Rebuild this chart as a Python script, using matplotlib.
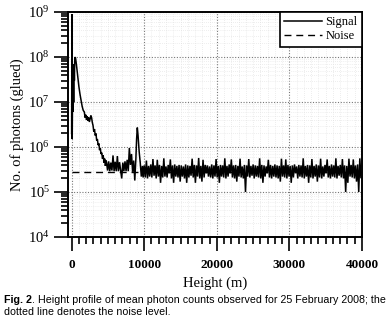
import numpy as np
import matplotlib
matplotlib.use("Agg")
import matplotlib.pyplot as plt
from matplotlib.ticker import MultipleLocator, LogLocator, FixedLocator, NullFormatter

plt.rcParams['font.family'] = ['Liberation Serif', 'DejaVu Serif']
plt.rcParams['mathtext.fontset'] = 'custom'
plt.rcParams['mathtext.rm'] = 'Liberation Serif'
plt.rcParams['mathtext.it'] = 'Liberation Serif:italic'
plt.rcParams['mathtext.bf'] = 'Liberation Serif:bold'

# ---- data ----
# near-range profile (m, photons)
near_h = [0, 40, 80, 130, 180, 230, 280, 330, 380, 430, 500, 560, 650, 750, 850,
          1000, 1150, 1300, 1450, 1600, 1750, 1850, 1950, 2050, 2150, 2250, 2350,
          2450, 2550, 2650, 2750, 2850, 2950, 3050, 3150, 3250, 3350, 3450, 3550,
          3650, 3750, 3850, 3950, 4050, 4150, 4250, 4350, 4450, 4550, 4650, 4750,
          4800, 4950, 5100, 5250, 5400, 5550, 5700, 5850, 6000, 6150, 6300, 6450,
          6600, 6750, 6900, 7050, 7200, 7350, 7500, 7650, 7800, 7950, 8100, 8250,
          8400, 8550, 8700, 8850, 8950, 9050, 9150, 9300, 9450, 9600, 9750, 9850]
near_v = [2e6, 9e8, 1.5e6, 2e7, 6e6, 5e7, 1e7, 7e7, 3e7, 9e7, 1e8, 9e7, 7e7, 5e7, 3.5e7,
          2.2e7, 1.5e7, 1.1e7, 8e6, 6.5e6, 6e6, 4.5e6, 5.2e6, 4e6, 4.8e6, 3.8e6, 4.5e6,
          3.6e6, 4.2e6, 5e6, 4.5e6, 3.5e6, 3e6, 2.2e6, 2.5e6, 1.8e6, 2e6, 1.4e6, 1.5e6,
          1.1e6, 1.2e6, 8.5e5, 9.5e5, 7e5, 7.5e5, 5.5e5, 6.5e5, 4.5e5, 5.5e5, 3.8e5, 5e5,
          4.6e5, 3.0e5, 4.8e5, 2.9e5, 4.5e5, 3.0e5, 6.5e5, 2.9e5, 4.7e5, 2.9e5, 6.3e5, 2.9e5,
          4.6e5, 3.0e5, 2.0e5, 4.5e5, 2.9e5, 4.8e5, 2.9e5, 5.2e5, 2.9e5, 9.5e5, 4.0e5, 7.0e5,
          2.8e5, 5.0e5, 1.8e5, 5.5e5, 1.5e6, 2.7e6, 1.8e6, 8e5, 4.5e5, 2.2e5, 3.8e5, 2.1e5]

# far-range background band, 150 m bins starting at 10000 m (units of 1e5 photons)
band_start = 10000
band_step = 150
band_v = [3.9, 2.1, 5.0, 2.0, 3.8, 2.2, 4.1, 2.1, 5.4, 2.3,
          3.9, 2.0, 5.2, 2.2, 4.0, 1.6, 3.8, 2.1, 5.6, 2.2,
          3.7, 2.1, 4.0, 2.6, 5.3, 2.0, 3.9, 1.6, 4.1, 2.2,
          3.8, 2.1, 4.0, 1.7, 3.9, 2.2, 3.7, 2.0, 4.1, 1.6,
          3.9, 2.1, 3.8, 2.3, 5.5, 2.1, 4.0, 1.6, 3.9, 2.2,
          5.7, 2.0, 3.8, 1.7, 5.2, 2.1, 4.0, 2.6, 3.9, 2.2,
          3.7, 2.1, 4.1, 2.0, 3.9, 2.2, 5.4, 2.1, 3.8, 1.6,
          4.0, 2.2, 3.9, 2.1, 5.6, 2.0, 3.8, 2.2, 4.1, 2.6,
          5.3, 2.1, 3.9, 2.0, 4.0, 1.7, 3.8, 2.2, 5.5, 2.1,
          3.7, 2.0, 4.0, 1.0, 3.9, 2.2, 5.4, 2.1, 3.8, 2.3,
          4.1, 2.0, 3.9, 2.2, 3.8, 2.1, 5.6, 2.0, 4.0, 1.6,
          3.9, 2.2, 3.7, 2.6, 5.2, 2.1, 4.0, 2.0, 3.8, 2.2,
          4.1, 2.1, 3.9, 2.0, 3.8, 1.7, 5.5, 2.2, 3.9, 2.1,
          5.3, 2.0, 4.0, 2.2, 3.8, 1.6, 3.9, 2.1, 4.1, 2.6,
          3.7, 2.0, 4.0, 2.2, 3.9, 2.1, 5.6, 2.0, 3.8, 2.2,
          4.0, 1.6, 3.9, 2.1, 5.4, 2.0, 3.8, 2.2, 4.1, 1.7,
          3.9, 2.1, 5.5, 2.0, 3.7, 2.2, 4.0, 2.6, 5.3, 2.1,
          3.8, 2.0, 4.1, 2.2, 3.9, 2.1, 5.6, 2.0, 3.8, 2.3,
          4.0, 2.1, 5.4, 2.0, 3.9, 1.0, 3.8, 1.6, 5.5, 2.2,
          4.0, 2.1, 5.3, 2.0, 3.9, 1.7, 4.1, 1.0, 5.6, 2.1]
band_scale = 1e5

noise_h = [0, 40000]
noise_level = [2.8e5, 2.8e5]

x_ticks = [0, 10000, 20000, 30000, 40000]
x_ticklabels = ['0', '10000', '20000', '30000', '40000']
y_ticks = [1e4, 1e5, 1e6, 1e7, 1e8, 1e9]
y_ticklabels = [r'$10^{4}$', r'$10^{5}$', r'$10^{6}$', r'$10^{7}$', r'$10^{8}$', r'$10^{9}$']

caption_bold = 'Fig. 2'
caption_rest = '. Height profile of mean photon counts observed for 25 February 2008; the'
caption_line2 = 'dotted line denotes the noise level.'

# ---- build signal ----
band_h = band_start + band_step * np.arange(len(band_v))
sig_h = np.concatenate([near_h, band_h, [40000]])
sig_v = np.concatenate([near_v, np.array(band_v) * band_scale, [band_v[-1] * band_scale]])

fig = plt.figure(figsize=(3.88, 3.24), dpi=100)
ax = fig.add_axes([68/388, 1 - 237/324, 294/388, 225/324])

ax.plot(noise_h, noise_level, color='black', lw=1.0, ls=(0, (5, 3.5)), label='Noise', zorder=3)
ax.plot(sig_h, sig_v, color='black', lw=1.1, label='Signal', zorder=4,
        solid_joinstyle='miter')

ax.set_yscale('log')
ax.set_xlim(-500, 40000)
ax.set_ylim(1e4, 1e9)

ax.xaxis.set_major_locator(FixedLocator(x_ticks))
ax.set_xticklabels(x_ticklabels, fontsize=9.5, fontweight='bold')
ax.xaxis.set_minor_locator(MultipleLocator(1000))
ax.yaxis.set_major_locator(FixedLocator(y_ticks))
ax.set_yticklabels(y_ticklabels, fontsize=10.5)
ax.yaxis.set_minor_locator(LogLocator(base=10, subs=np.arange(2, 10), numticks=20))
ax.yaxis.set_minor_formatter(NullFormatter())

ax.tick_params(which='major', direction='out', length=10, width=1.2, pad=3)
ax.tick_params(which='minor', direction='out', length=5, width=1.2)
ax.tick_params(axis='x', which='major', pad=6)

for s in ax.spines.values():
    s.set_linewidth(1.4)

ax.grid(which='major', ls=(0, (1, 1.5)), color='#777777', lw=0.8)
ax.grid(which='minor', ls=(0, (1, 2)), color='#dddddd', lw=0.5)
ax.set_axisbelow(True)

ax.set_xlabel('Height (m)', fontsize=10.5, labelpad=4)
ax.set_ylabel('No. of photons (glued)', fontsize=10.5, labelpad=3)

handles, labels = ax.get_legend_handles_labels()
leg = ax.legend(handles[::-1], labels[::-1], loc='upper right', borderaxespad=0,
                fancybox=False, edgecolor='black', framealpha=1, fontsize=9,
                handlelength=3.0, handletextpad=0.3, borderpad=0.35, labelspacing=0.15)
leg.get_frame().set_linewidth(1.2)

cap_fs = 7.7
cap_fam = ['Liberation Sans', 'DejaVu Sans']
t1 = fig.text(4/388, 1 - 300/324, caption_bold, fontsize=cap_fs, fontweight='bold',
              family=cap_fam, va='center', ha='left')
fig.canvas.draw()
bb = t1.get_window_extent()
fig.text(bb.x1 / fig.bbox.width, 1 - 300/324, caption_rest, fontsize=cap_fs,
         family=cap_fam, va='center', ha='left')
fig.text(4/388, 1 - 312/324, caption_line2, fontsize=cap_fs,
         family=cap_fam, va='center', ha='left')

fig.savefig('out.png', dpi=100)
